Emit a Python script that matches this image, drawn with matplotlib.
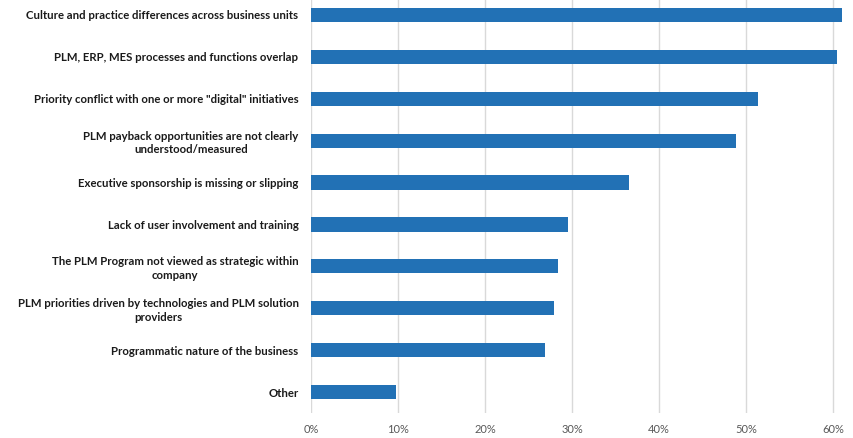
import matplotlib.pyplot as plt
from matplotlib.ticker import PercentFormatter

# Survey answers, top to bottom as shown
categories = [
    "Culture and practice differences across business units",
    "PLM, ERP, MES processes and functions overlap",
    'Priority conflict with one or more "digital" initiatives',
    "PLM payback opportunities are not clearly\nunderstood/measured",
    "Executive sponsorship is missing or slipping",
    "Lack of user involvement and training",
    "The PLM Program not viewed as strategic within\ncompany",
    "PLM priorities driven by technologies and PLM solution\nproviders",
    "Programmatic nature of the business",
    "Other",
]
shares = [0.610, 0.605, 0.514, 0.489, 0.366, 0.295, 0.284, 0.279, 0.269, 0.098]
x_ticks = [0, 0.1, 0.2, 0.3, 0.4, 0.5, 0.6]

fig = plt.figure(figsize=(8.54, 4.38), dpi=100)
ax = fig.add_axes([311 / 854, 25 / 438, 609 / 854, 419 / 438])

pos = list(range(len(categories)))
ax.barh(pos, shares, height=0.34, color="#2271b5", zorder=3)
ax.set_ylim(len(categories) - 0.5, -0.5)
ax.set_xlim(0, 0.7)
ax.set_yticks(pos)
ax.set_yticklabels(categories, fontfamily="Lato", fontweight="bold",
                   fontsize=8.2, color="#1a1a1a", ha="right",
                   multialignment="center", linespacing=1.25)
ax.set_xticks(x_ticks)
ax.xaxis.set_major_formatter(PercentFormatter(1.0, decimals=0))
ax.tick_params(axis="x", labelsize=8, labelcolor="#595959", length=0, pad=8)
ax.tick_params(axis="y", length=0, pad=9)
for lab in ax.get_xticklabels():
    lab.set_fontfamily("Lato")

ax.grid(axis="x", color="#d9d9d9", linewidth=1, zorder=0)
for s in ax.spines.values():
    s.set_visible(False)

fig.savefig("out.png", dpi=100)
